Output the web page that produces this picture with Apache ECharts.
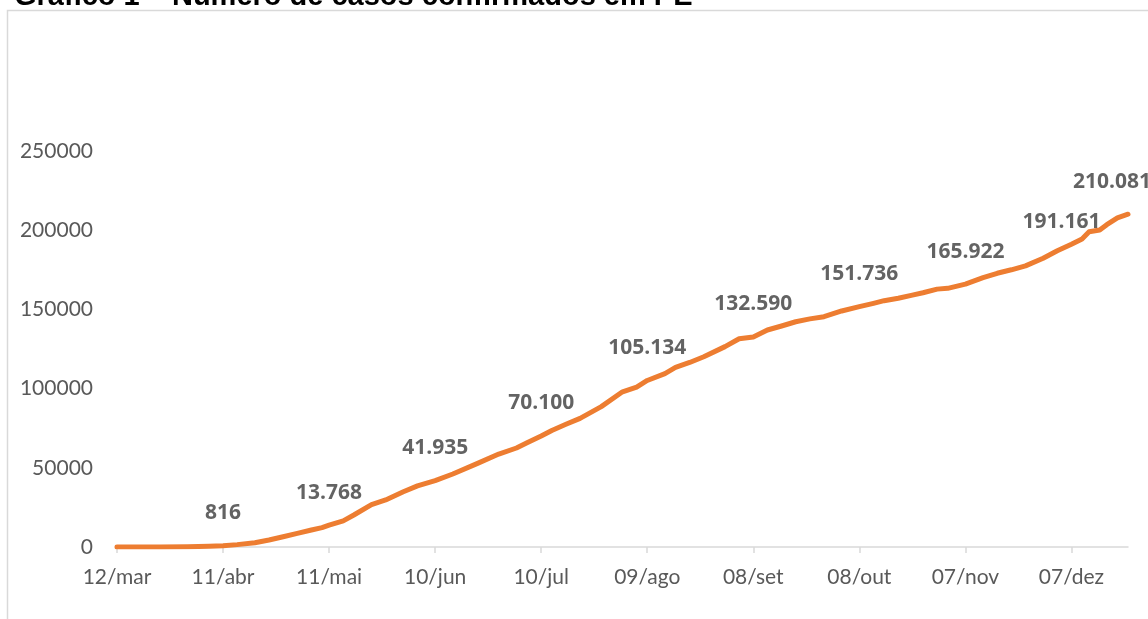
<!DOCTYPE html>
<html>
<head>
<meta charset="utf-8">
<script src="https://cdn.jsdelivr.net/npm/echarts@6/dist/echarts.min.js"></script>
<style>
html,body{margin:0;padding:0;background:#fff;}
#chart{width:1148px;height:619px;}
</style>
</head>
<body>
<div id="chart"></div>
<script>
// Days counted from 12/mar (day 0)
const tickDays = [0, 30, 60, 90, 120, 150, 180, 210, 240, 270];
const tickLabels = ["12/mar", "11/abr", "11/mai", "10/jun", "10/jul", "09/ago", "08/set", "08/out", "07/nov", "07/dez"];
const yTicks = [0, 50000, 100000, 150000, 200000, 250000];

// Cumulative confirmed cases
const caseDays = [0, 12, 20, 26, 30, 34, 39, 43, 47, 51, 55, 58, 60, 64, 67, 72, 76, 81, 85, 90, 95, 102, 108, 113, 116, 120, 123, 127, 131, 137, 143, 147, 150, 155, 158, 162, 166, 172, 176, 180, 184, 188, 192, 196, 200, 205, 210, 214, 217, 221, 225, 228, 232, 235, 240, 245, 249, 253, 257, 262, 266, 270, 273, 275, 278, 280, 283, 286];
const caseValues = [2, 30, 150, 450, 816, 1500, 2700, 4400, 6500, 8600, 10700, 12200, 13768, 16500, 20200, 26800, 29700, 34900, 38600, 41935, 46100, 52800, 58700, 62500, 65800, 70100, 73600, 77500, 81200, 88600, 98000, 101000, 105134, 109500, 113400, 116500, 120100, 126500, 131500, 132590, 137000, 139500, 142200, 144000, 145400, 149000, 151736, 153800, 155500, 157000, 159000, 160500, 162800, 163300, 165922, 170000, 172800, 175000, 177500, 182300, 187000, 191161, 194500, 199000, 200100, 203500, 207800, 210081];

// Labelled points
const labelDays = [30, 60, 90, 120, 150, 180, 210, 240, 270, 286];
const labelValues = [816, 13768, 41935, 70100, 105134, 132590, 151736, 165922, 191161, 210081];

const fmtBR = v => String(v).replace(/\B(?=(\d{3})+(?!\d))/g, '.');
const labelOffsets = {8: [-10, 10], 9: [-16, 0]};

const chart = echarts.init(document.getElementById('chart'), null, {renderer: 'canvas'});
const option = {
  animation: false,
  backgroundColor: '#ffffff',
  title: {
    text: 'Gráfico 1 – Número de casos confirmados em PE',
    left: 9,
    top: -23,
    textStyle: {fontFamily: 'Liberation Sans, Arial', fontWeight: 'bold', fontSize: 29, color: '#000000'}
  },
  graphic: [{
    type: 'rect',
    shape: {x: 7.5, y: 10.5, width: 1300, height: 800},
    style: {fill: 'none', stroke: '#d9d9d9', lineWidth: 1.5},
    silent: true,
    z: -10
  }],
  grid: {left: 117, right: 20, top: 151, bottom: 72, containLabel: false},
  xAxis: {
    type: 'value',
    min: 0,
    max: 286,
    splitLine: {show: false},
    axisLine: {show: true, lineStyle: {color: '#d9d9d9', width: 1.5}},
    axisTick: {show: true, customValues: tickDays, length: 6, lineStyle: {color: '#d9d9d9', width: 1.5}},
    axisLabel: {
      customValues: tickDays,
      margin: 20,
      fontFamily: 'Lato',
      fontSize: 21,
      color: '#595959',
      formatter: v => { const i = tickDays.indexOf(Math.round(v)); return i >= 0 ? tickLabels[i] : ''; }
    }
  },
  yAxis: {
    type: 'value',
    min: 0,
    max: 250000,
    interval: 50000,
    splitLine: {show: false},
    axisLine: {show: false},
    axisTick: {show: false},
    axisLabel: {
      customValues: yTicks,
      margin: 24,
      fontFamily: 'Lato',
      fontSize: 21,
      color: '#595959',
      formatter: v => String(v)
    }
  },
  series: [
    {
      type: 'line',
      data: caseDays.map((d, i) => [d, caseValues[i]]),
      showSymbol: false,
      symbol: 'none',
      lineStyle: {color: '#ED7D31', width: 5, cap: 'round', join: 'round'},
      z: 2
    },
    {
      type: 'scatter',
      data: labelDays.map((d, i) => ({
        value: [d, labelValues[i]],
        label: labelOffsets[i] ? {offset: labelOffsets[i]} : undefined
      })),
      symbolSize: 0,
      itemStyle: {color: 'rgba(0,0,0,0)'},
      label: {
        show: true,
        position: 'top',
        distance: 22,
        fontFamily: 'Open Sans',
        fontWeight: 'bold',
        fontSize: 21,
        lineHeight: 21,
        color: '#3c3c3c',
        formatter: p => fmtBR(p.value[1])
      },
      z: 3
    }
  ]
};
chart.setOption(option);
</script>
</body>
</html>
